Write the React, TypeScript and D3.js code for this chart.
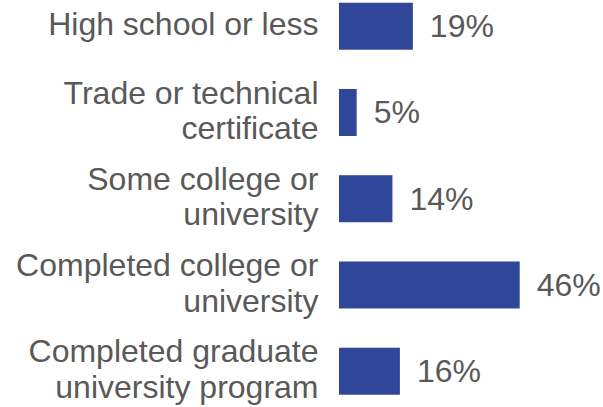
import { useEffect, useRef } from 'react';
import * as d3 from 'd3';

const categories = [
  'High school or less',
  'Trade or technical certificate',
  'Some college or university',
  'Completed college or university',
  'Completed graduate university program',
];
const categoryLines = [
  ['High school or less'],
  ['Trade or technical', 'certificate'],
  ['Some college or', 'university'],
  ['Completed college or', 'university'],
  ['Completed graduate', 'university program'],
];
const values = [18.8, 4.5, 13.6, 46, 15.5];
const valueLabels = ['19%', '5%', '14%', '46%', '16%'];

const width = 603;
const height = 407;
const barColor = '#2f4699';
const textColor = '#595959';
const font = '"Liberation Sans", Arial, sans-serif';

export default function App() {
  const ref = useRef<SVGSVGElement | null>(null);

  useEffect(() => {
    if (!ref.current) return;
    const svg = d3.select(ref.current);
    svg.selectAll('*').remove();

    const left = 339;
    const x = d3.scaleLinear().domain([0, 46]).range([left, left + 180.7]);
    const y = d3
      .scaleBand<string>()
      .domain(categories)
      .range([-16.9, 414.35])
      .paddingInner(0.455)
      .paddingOuter(0.2275);

    const rows = svg
      .selectAll('g.row')
      .data(categories)
      .join('g')
      .attr('class', 'row');

    rows
      .append('rect')
      .attr('x', x(0))
      .attr('y', d => y(d)!)
      .attr('width', (_, i) => x(values[i]) - x(0))
      .attr('height', y.bandwidth())
      .attr('fill', barColor);

    const lineH = 35.5;
    rows.each(function (d, i) {
      const c = y(d)! + y.bandwidth() / 2;
      const lines = categoryLines[i];
      const g = d3.select(this);
      lines.forEach((t, j) => {
        g.append('text')
          .attr('x', 318.5)
          .attr('y', c + 9 + (j - (lines.length - 1) / 2) * lineH)
          .attr('text-anchor', 'end')
          .attr('font-family', font)
          .attr('font-size', 32)
          .attr('fill', textColor)
          .text(t);
      });
      g.append('text')
        .attr('x', x(values[i]) + 17)
        .attr('y', c + 11)
        .attr('font-family', font)
        .attr('font-size', 32)
        .attr('fill', textColor)
        .text(valueLabels[i]);
    });
  }, []);

  return (
    <svg
      ref={ref}
      width={width}
      height={height}
      style={{ position: 'absolute', left: 0, top: 0, background: '#fff' }}
    />
  );
}
